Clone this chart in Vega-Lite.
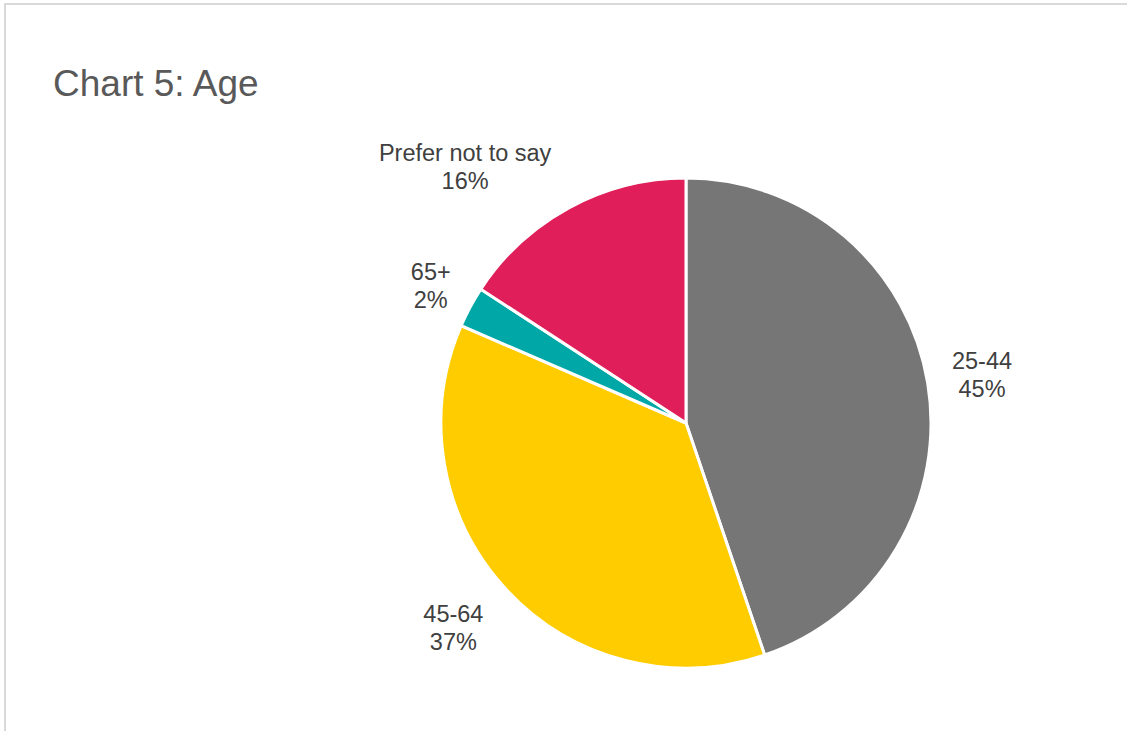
{
  "$schema": "https://vega.github.io/schema/vega-lite/v6.json",
  "width": 1362,
  "height": 838,
  "autosize": {"type": "none"},
  "padding": {"left": 5, "top": 4, "right": 0, "bottom": 0},
  "background": "white",
  "view": {"stroke": "#d9d9d9", "strokeWidth": 2, "fill": "white"},
  "config": {"view": {"stroke": "#d9d9d9", "strokeWidth": 2}},
  "title": {
    "text": "Chart 5: Age",
    "anchor": "start",
    "frame": "group",
    "orient": "top",
    "font": "Liberation Sans",
    "fontSize": 37,
    "fontWeight": "normal",
    "color": "#595959",
    "baseline": "alphabetic",
    "offset": 0,
    "dx": 48,
    "dy": 129
  },
  "data": {
    "values": [
      {"age": "25-44", "share": 44.8, "label": "25-44\n45%"},
      {"age": "45-64", "share": 36.7, "label": "45-64\n37%"},
      {"age": "65+", "share": 2.7, "label": "65+\n2%"},
      {"age": "Prefer not to say", "share": 15.8, "label": "Prefer not to say\n16%"}
    ]
  },
  "encoding": {
    "theta": {"field": "share", "type": "quantitative", "stack": true}
  },
  "layer": [
    {
      "mark": {"type": "arc", "outerRadius": 245, "stroke": "white", "strokeWidth": 3},
      "encoding": {
        "color": {
          "field": "age",
          "type": "nominal",
          "scale": {
            "domain": ["25-44", "45-64", "65+", "Prefer not to say"],
            "range": ["#767676", "#FFCC00", "#00A7A7", "#E01F5A"]
          },
          "legend": null
        }
      }
    },
    {
      "mark": {"type": "text", "radius": 300, "dx": 0, "dy": -12, "font": "Liberation Sans", "fontSize": 23.5, "lineHeight": 28, "lineBreak": "\n", "color": "#404040", "align": "center", "baseline": "middle"},
      "encoding": {
        "text": {"condition": {"test": "datum.age !== '25-44'", "value": ""}, "field": "label"}
      }
    },
    {
      "mark": {"type": "text", "radius": 300, "dx": -12, "dy": -11, "font": "Liberation Sans", "fontSize": 23.5, "lineHeight": 28, "lineBreak": "\n", "color": "#404040", "align": "center", "baseline": "middle"},
      "encoding": {
        "text": {"condition": {"test": "datum.age !== '45-64'", "value": ""}, "field": "label"}
      }
    },
    {
      "mark": {"type": "text", "radius": 300, "dx": 9, "dy": -8, "font": "Liberation Sans", "fontSize": 23.5, "lineHeight": 28, "lineBreak": "\n", "color": "#404040", "align": "center", "baseline": "middle"},
      "encoding": {
        "text": {"condition": {"test": "datum.age !== '65+'", "value": ""}, "field": "label"}
      }
    },
    {
      "mark": {"type": "text", "radius": 300, "dx": -78, "dy": -5, "font": "Liberation Sans", "fontSize": 23.5, "lineHeight": 28, "lineBreak": "\n", "color": "#404040", "align": "center", "baseline": "middle"},
      "encoding": {
        "text": {"condition": {"test": "datum.age !== 'Prefer not to say'", "value": ""}, "field": "label"}
      }
    }
  ]
}
